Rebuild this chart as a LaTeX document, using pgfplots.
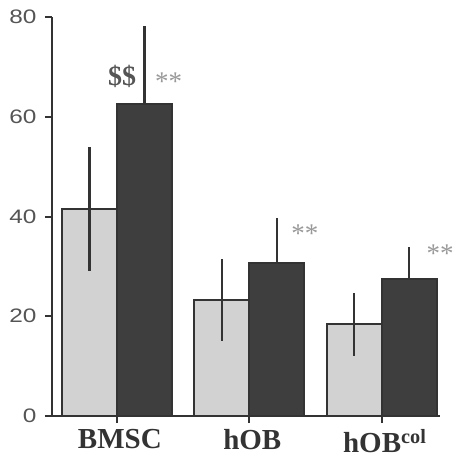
\documentclass[border=0pt]{standalone}
\usepackage{pgfplots}
\usepackage{pgfplotstable}
\pgfplotsset{compat=1.18}
\usepackage{fontspec}
\setmainfont{Liberation Sans}
\newfontfamily\serif{Liberation Serif}
\newfontfamily\tickfont[FakeStretch=1.25]{Liberation Sans}
\definecolor{lightbar}{HTML}{D2D2D2}
\definecolor{darkbar}{HTML}{3E3E3E}
\definecolor{edge}{HTML}{333333}
\definecolor{ticktext}{HTML}{555555}
\pgfplotstableread{
x y e
0 41.5 12.5
1 23.2 8.2
2 18.4 6.3
}\lightdata
\pgfplotstableread{
x y e
0 62.6 15.6
1 30.6 9.0
2 27.4 6.4
}\darkdata
\begin{document}
\begin{tikzpicture}
\path[use as bounding box] (-52bp,-43bp) rectangle (401bp,416bp);
\begin{axis}[
  at={(0,0)}, anchor=south west,
  width=388bp, height=399bp, scale only axis,
  xmin=-0.49, xmax=2.44, ymin=0, ymax=80,
  axis x line*=bottom, axis y line*=left,
  axis line style={line width=2bp, color=edge},
  ytick={0,20,40,60,80},
  xtick={0,1,2},
  xticklabels={BMSC,hOB,hOB\textsuperscript{col}},
  tick align=outside, major tick length=7bp,
  tick style={line width=2bp, color=edge},
  /pgf/number format/assume math mode=true,
  yticklabel style={font=\tickfont\fontsize{19.5bp}{19.5bp}\selectfont, text=ticktext, xshift=-5bp},
  xticklabel style={font=\serif\bfseries\fontsize{29bp}{29bp}\selectfont, text=edge, yshift=-3bp, xshift=3bp},
  clip=false,
]
\addplot[ybar, bar width=0.415, bar shift=-0.2075, fill=lightbar, draw=edge, line width=1.8bp]
  table[x=x, y=y]{\lightdata};
\addplot[ybar, bar width=0.415, bar shift=0.2075, fill=darkbar, draw=edge, line width=1.8bp]
  table[x=x, y=y]{\darkdata};
\addplot[draw=none, mark=none, forget plot,
  error bars/.cd, y dir=both, y explicit, error mark=none,
  error bar style={draw=edge, solid, line width=2.4bp}]
  table[x expr=\thisrow{x}-0.2075, y=y, y error=e]{\lightdata};
\addplot[draw=none, mark=none, forget plot,
  error bars/.cd, y dir=plus, y explicit, error mark=none,
  error bar style={draw=edge, solid, line width=2.4bp}]
  table[x expr=\thisrow{x}+0.2075, y=y, y error=e]{\darkdata};
\node[font=\serif\bfseries\fontsize{28bp}{28bp}\selectfont, text=ticktext] at (axis cs:0.04,68) {\$\$};
\node[font=\serif\fontsize{27bp}{27bp}\selectfont, text=gray!80] at (axis cs:0.39,67) {**};
\node[font=\serif\fontsize{27bp}{27bp}\selectfont, text=gray!80] at (axis cs:1.42,36.5) {**};
\node[font=\serif\fontsize{27bp}{27bp}\selectfont, text=gray!80] at (axis cs:2.44,32.5) {**};
\end{axis}
\end{tikzpicture}
\end{document}
